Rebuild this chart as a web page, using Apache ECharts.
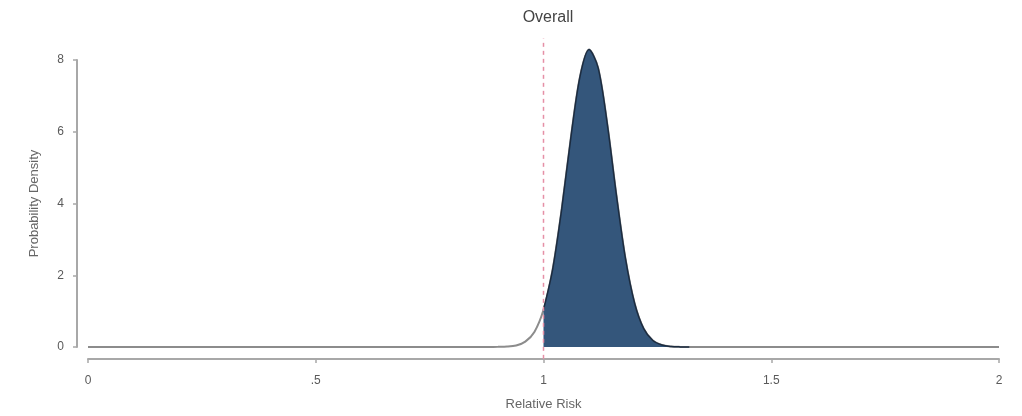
<!DOCTYPE html>
<html>
<head>
<meta charset="utf-8">
<script src="https://cdn.jsdelivr.net/npm/echarts@6/dist/echarts.min.js"></script>
<style>
  html, body { margin: 0; padding: 0; background: #fff; }
  #chart { width: 1022px; height: 416px; }
</style>
</head>
<body>
<div id="chart"></div>
<script>
// relative risk grid (x) and density values
var riskX = [0, 0.5, 0.86, 0.88, 0.90, 0.92, 0.94, 0.96, 0.98, 1.00, 1.02, 1.04, 1.06, 1.08, 1.10,
             1.12, 1.14, 1.16, 1.18, 1.20, 1.22, 1.24, 1.26, 1.28, 1.30, 1.32, 1.5, 2];
var density = [0, 0, 0, 0.002, 0.004, 0.011, 0.043, 0.15, 0.42, 1.04, 2.16, 3.85, 5.83, 7.53, 8.29,
               7.78, 6.22, 4.24, 2.46, 1.22, 0.51, 0.18, 0.056, 0.015, 0.003, 0, 0, 0];
var nullValue = 1;            // red dashed reference line
var xTicks = ['0', '.5', '1', '1.5', '2'];

var curve = [];
var shaded = [];
for (var i = 0; i < riskX.length; i++) {
    curve.push([riskX[i], density[i]]);
    if (riskX[i] >= nullValue && riskX[i] <= 1.32) shaded.push([riskX[i], density[i]]);
}

var chart = echarts.init(document.getElementById('chart'));
var axisGrey = '#a8a8a8';
var textGrey = '#5a5a5a';

var option = {
    animation: false,
    title: {
        text: 'Overall',
        left: 543,
        textAlign: 'center',
        top: 5,
        textStyle: { fontSize: 16, fontWeight: 'normal', color: '#444', fontFamily: 'Arial, Liberation Sans' }
    },
    grid: { left: 88, right: 23, top: 60, bottom: 66 },
    xAxis: {
        type: 'value',
        min: 0,
        max: 2,
        interval: 0.5,
        offset: 12,
        name: 'Relative Risk',
        nameLocation: 'middle',
        nameGap: 39,
        nameTextStyle: { fontSize: 13, color: '#666', fontFamily: 'Arial, Liberation Sans' },
        axisLine: { onZero: false, lineStyle: { color: axisGrey, width: 2 } },
        axisTick: { show: true, length: 4, lineStyle: { color: axisGrey, width: 1.5 } },
        axisLabel: {
            margin: 16,
            fontSize: 12,
            color: textGrey,
            fontFamily: 'Arial, Liberation Sans',
            formatter: function (v) { return xTicks[Math.round(v / 0.5)]; }
        },
        splitLine: { show: false }
    },
    yAxis: {
        type: 'value',
        min: 0,
        max: 8,
        interval: 2,
        offset: 11,
        name: 'Probability Density',
        nameLocation: 'middle',
        nameGap: 36,
        nameTextStyle: { fontSize: 13, color: '#666', fontFamily: 'Arial, Liberation Sans' },
        axisLine: { show: true, onZero: false, lineStyle: { color: axisGrey, width: 2 } },
        axisTick: { show: true, length: 4, lineStyle: { color: axisGrey, width: 1.5 } },
        axisLabel: { margin: 13, fontSize: 12, color: textGrey, fontFamily: 'Arial, Liberation Sans' },
        splitLine: { show: false }
    },
    series: [
        {
            name: 'shaded',
            type: 'line',
            data: shaded,
            smooth: 0.3,
            symbol: 'none',
            clip: false,
            z: 3,
            lineStyle: { color: '#1c2c40', width: 1.5 },
            areaStyle: { color: '#34567b', opacity: 1, origin: 'start' }
        },
        {
            name: 'density',
            type: 'line',
            data: curve,
            smooth: 0.3,
            symbol: 'none',
            clip: false,
            z: 2,
            lineStyle: { color: '#8c8c8c', width: 2 }
        },
        {
            name: 'null',
            type: 'line',
            data: [[nullValue, -0.33], [nullValue, 8.6]],
            symbol: 'none',
            clip: false,
            z: 4,
            lineStyle: { color: '#e590a6', width: 1.5, type: [4, 4] }
        }
    ]
};
chart.setOption(option);
</script>
</body>
</html>
